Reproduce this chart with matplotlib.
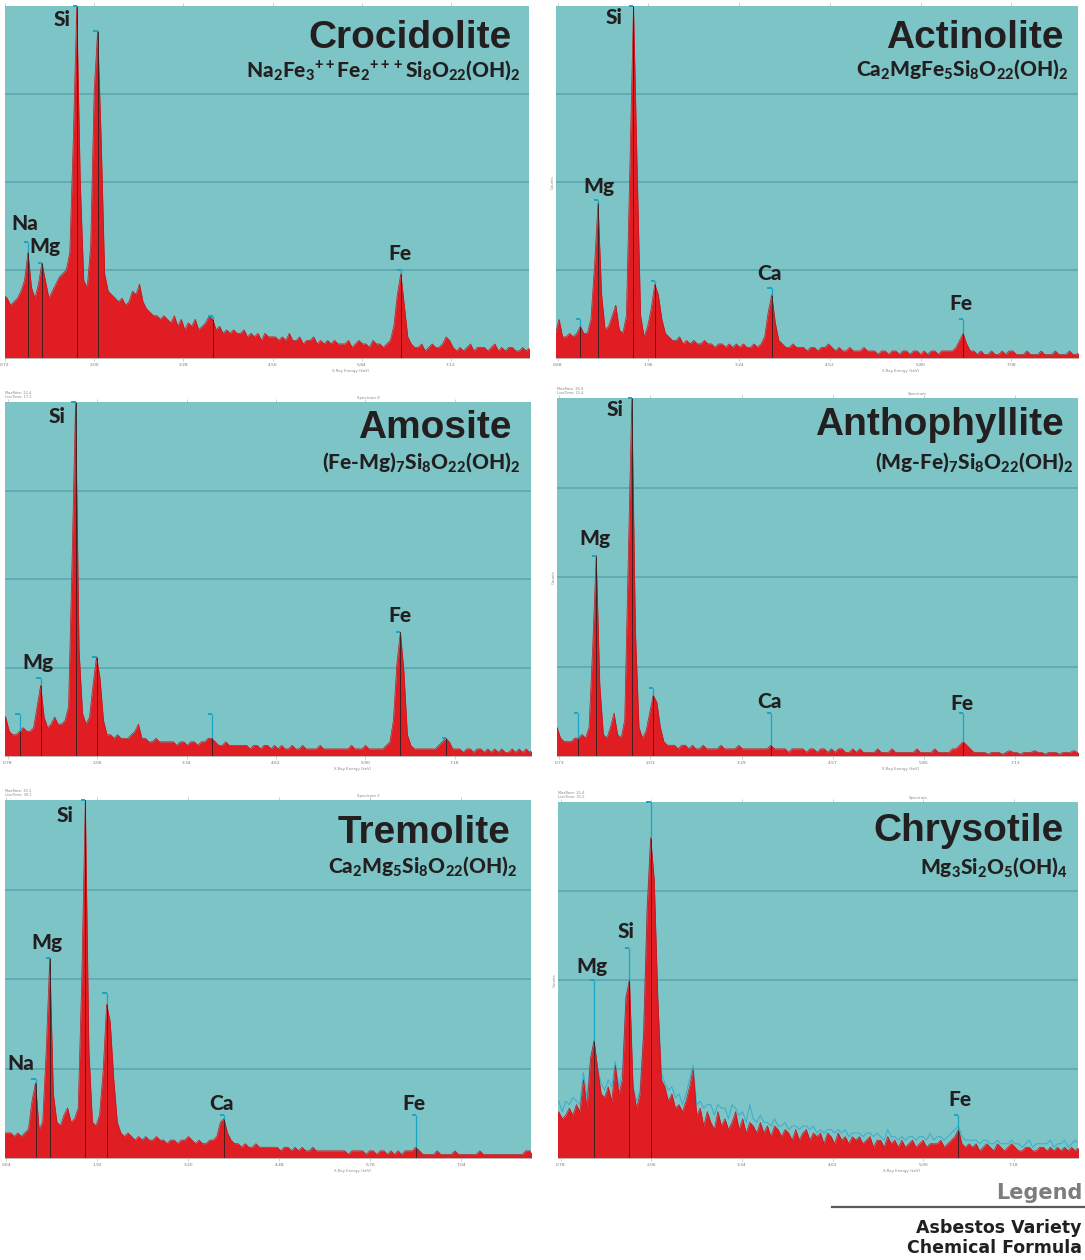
import numpy as np
import matplotlib
matplotlib.use("Agg")
import matplotlib.pyplot as plt
from matplotlib.lines import Line2D

W, H = 1085, 1260
plt.rcParams['mathtext.fontset'] = 'custom'
plt.rcParams['mathtext.rm'] = 'Lato:black'
plt.rcParams['mathtext.it'] = 'Lato:black'
plt.rcParams['mathtext.bf'] = 'Lato:black'

# ---------------- data: counts (% of full scale) on a 0.05 keV grid from 0.60 keV
E_START, E_STEP, N_CH = 0.60, 0.05, 155
energy = E_START + E_STEP * np.arange(N_CH)

crocidolite = [
    18, 18, 18, 17, 15, 16, 17, 19, 22, 30,
    20, 17, 21, 27, 22, 17, 19, 21, 23, 24,
    25, 30, 62, 100, 50, 22, 20, 32, 76, 93,
    62, 24, 19, 18, 17, 16, 17, 15, 16, 19,
    18, 21, 16, 14, 13, 12, 12, 11, 12, 11,
    10, 12, 9, 11, 8, 10, 9, 11, 8, 9,
    10, 12, 11, 8, 9, 7, 8, 7, 8, 7,
    7, 8, 6, 7, 6, 7, 5, 7, 6, 6,
    6, 5, 6, 5, 7, 5, 5, 6, 4, 5,
    5, 6, 4, 5, 4, 5, 4, 5, 4, 4,
    4, 5, 3, 4, 5, 4, 4, 3, 5, 4,
    4, 3, 4, 5, 9, 18, 24, 15, 6, 4,
    3, 3, 4, 2, 3, 4, 3, 3, 4, 6,
    5, 3, 2, 3, 2, 3, 4, 2, 3, 3,
    3, 2, 3, 4, 2, 3, 2, 3, 3, 2,
    2, 3, 2, 3, 2]

actinolite = [
    7, 7, 11, 6, 6, 7, 6, 7, 9, 7,
    7, 11, 26, 44, 18, 8, 9, 12, 15, 8,
    7, 12, 55, 100, 55, 12, 6, 9, 14, 21,
    18, 11, 7, 6, 5, 5, 6, 4, 5, 4,
    5, 4, 4, 5, 4, 4, 3, 4, 4, 3,
    4, 3, 4, 3, 4, 3, 3, 4, 3, 4,
    6, 13, 18, 10, 5, 4, 3, 3, 4, 3,
    3, 3, 2, 3, 3, 2, 3, 3, 4, 3,
    2, 3, 2, 2, 3, 2, 2, 2, 3, 2,
    2, 2, 1, 2, 2, 1, 2, 2, 1, 2,
    2, 1, 2, 2, 1, 2, 1, 2, 2, 1,
    2, 2, 2, 2, 3, 5, 7, 4, 2, 2,
    1, 2, 1, 1, 2, 1, 1, 2, 1, 2,
    2, 1, 1, 1, 2, 1, 1, 1, 2, 1,
    1, 1, 2, 1, 1, 1, 2, 1, 1, 2,
    1, 2, 1, 1, 2]

amosite = [
    12, 12, 12, 11, 7, 6, 6, 7, 8, 7,
    7, 8, 14, 20, 11, 8, 9, 11, 9, 9,
    10, 14, 55, 100, 30, 12, 9, 11, 20, 28,
    22, 10, 6, 6, 5, 6, 5, 5, 5, 6,
    7, 9, 5, 5, 4, 4, 5, 4, 4, 4,
    4, 4, 3, 4, 4, 3, 4, 4, 3, 4,
    4, 5, 5, 4, 3, 3, 4, 3, 3, 3,
    3, 3, 3, 2, 3, 3, 2, 3, 3, 2,
    3, 2, 3, 2, 2, 3, 2, 2, 3, 2,
    2, 2, 2, 3, 2, 2, 2, 2, 2, 2,
    2, 2, 3, 2, 2, 2, 3, 2, 2, 2,
    2, 2, 3, 4, 10, 26, 35, 24, 6, 3,
    2, 2, 2, 2, 2, 2, 2, 3, 4, 5,
    4, 2, 2, 2, 1, 2, 2, 1, 2, 2,
    1, 2, 1, 2, 1, 2, 1, 1, 2, 1,
    2, 1, 2, 1, 2]

anthophyllite = [
    8, 8, 8, 5, 4, 4, 4, 5, 5, 6,
    5, 8, 30, 56, 20, 6, 5, 8, 12, 6,
    5, 10, 55, 100, 35, 8, 5, 7, 12, 17,
    15, 8, 4, 3, 3, 3, 2, 3, 3, 2,
    3, 2, 2, 3, 2, 2, 2, 2, 3, 2,
    2, 2, 2, 3, 2, 2, 2, 2, 2, 2,
    2, 2, 3, 2, 2, 2, 2, 1, 2, 2,
    2, 2, 1, 2, 2, 1, 2, 2, 1, 2,
    1, 2, 2, 1, 1, 2, 1, 2, 1, 1,
    1, 1, 2, 1, 1, 1, 2, 1, 1, 1,
    1, 1, 1, 2, 1, 1, 1, 1, 2, 1,
    1, 1, 1, 2, 2, 3, 4, 3, 2, 1,
    1, 1, 1, 0.5, 1, 1, 1, 0.5, 1, 1.5,
    1, 1, 0.5, 1, 1, 1, 1.5, 1, 1, 0.5,
    1, 1, 1, 0.5, 1, 1, 1, 1.5, 1, 1,
    1, 0.5, 1, 1, 1]

tremolite = [
    7, 7, 7, 6, 7, 6, 7, 8, 16, 21,
    8, 10, 30, 56, 18, 10, 9, 12, 14, 10,
    11, 14, 50, 100, 30, 10, 9, 12, 24, 43,
    38, 22, 10, 7, 6, 7, 6, 5, 6, 5,
    6, 5, 5, 6, 5, 5, 4, 5, 5, 4,
    5, 5, 6, 5, 4, 5, 4, 4, 5, 5,
    6, 10, 11, 7, 5, 4, 4, 3, 4, 3,
    3, 4, 3, 3, 3, 3, 3, 3, 2, 3,
    3, 2, 3, 2, 3, 2, 2, 3, 2, 2,
    2, 2, 2, 2, 2, 2, 2, 1, 2, 2,
    2, 2, 1, 2, 2, 1, 2, 2, 1, 2,
    1, 2, 1, 2, 2, 2, 3, 2, 1, 1,
    1, 1, 2, 1, 1, 1, 1, 2, 1, 1,
    1, 1, 1, 1, 2, 1, 1, 1, 1, 1,
    1, 1, 1, 1, 1, 1, 1, 2, 2, 1,
    1, 1, 1, 1, 1]

chrysotile = [
    12, 12, 12, 13, 11, 12, 14, 12, 15, 13,
    22, 14, 28, 33, 25, 18, 17, 20, 16, 26,
    18, 22, 45, 50, 20, 14, 18, 35, 70, 90,
    78, 45, 22, 20, 16, 18, 14, 15, 13, 16,
    20, 25, 12, 14, 9, 13, 10, 8, 13, 9,
    11, 8, 10, 13, 8, 11, 7, 10, 9, 7,
    10, 7, 9, 6, 9, 8, 6, 8, 7, 5,
    8, 5, 7, 8, 5, 7, 6, 7, 4, 7,
    6, 4, 7, 5, 6, 4, 6, 5, 6, 4,
    5, 6, 3, 5, 5, 3, 6, 4, 5, 3,
    5, 3, 4, 5, 3, 4, 5, 3, 4, 4,
    4, 5, 3, 4, 5, 6, 8, 4, 3, 4,
    3, 4, 2, 3, 4, 3, 2, 4, 3, 2,
    3, 4, 3, 2, 2, 3, 3, 2, 2, 3,
    3, 2, 3, 2, 3, 2, 3, 2, 3, 2,
    3, 2, 3, 2, 3]

# light-blue overlay spectrum visible above the red one in the chrysotile panel
chrysotile_overlay = [
    14, 14, 15, 16, 13, 16, 15, 17, 16, 15,
    24, 17, 28, 33, 25, 21, 19, 22, 20, 27,
    20, 24, 45, 50, 20, 16, 19, 35, 70, 90,
    78, 45, 24, 21, 19, 20, 17, 18, 15, 18,
    22, 26, 15, 16, 14, 15, 15, 12, 15, 14,
    14, 11, 15, 14, 12, 13, 10, 15, 11, 10,
    12, 10, 10, 9, 11, 9, 9, 10, 8, 9,
    9, 8, 9, 9, 8, 9, 7, 8, 7, 8,
    8, 7, 8, 7, 8, 6, 7, 7, 7, 6,
    7, 7, 6, 7, 6, 5, 8, 6, 6, 5,
    6, 5, 6, 6, 5, 6, 6, 5, 7, 5,
    6, 6, 5, 6, 7, 8, 9, 6, 5, 5,
    5, 5, 4, 5, 5, 4, 4, 5, 4, 4,
    4, 5, 4, 4, 3, 4, 5, 3, 4, 4,
    4, 4, 5, 3, 4, 4, 5, 3, 4, 5,
    4, 4, 5, 4, 4]

names = ["Crocidolite", "Actinolite", "Amosite", "Anthophyllite", "Tremolite", "Chrysotile"]
formulas = [
    r"Na$_2$Fe$_3{}^{++}$Fe$_2{}^{+++}$Si$_8$O$_{22}$(OH)$_2$",
    r"Ca$_2$MgFe$_5$Si$_8$O$_{22}$(OH)$_2$",
    r"(Fe-Mg)$_7$Si$_8$O$_{22}$(OH)$_2$",
    r"(Mg-Fe)$_7$Si$_8$O$_{22}$(OH)$_2$",
    r"Ca$_2$Mg$_5$Si$_8$O$_{22}$(OH)$_2$",
    r"Mg$_3$Si$_2$O$_5$(OH)$_4$",
]
spectra = [crocidolite, actinolite, amosite, anthophyllite, tremolite, chrysotile]
overlays = [None, None, None, None, None, chrysotile_overlay]
x_ranges = [(0.737, 8.24), (0.657, 8.02), (0.74, 8.27), (0.70, 8.01), (0.62, 8.02), (0.74, 8.09)]
tick_sets = [
    [0.72, 2.00, 3.28, 4.56, 5.84, 7.12],
    [0.68, 1.96, 3.24, 4.52, 5.80, 7.08],
    [0.78, 2.06, 3.34, 4.62, 5.90, 7.18],
    [0.73, 2.01, 3.29, 4.57, 5.85, 7.13],
    [0.64, 1.92, 3.20, 4.48, 5.76, 7.04],
    [0.78, 2.06, 3.34, 4.62, 5.90, 7.18],
]
marker_energies = [
    [1.05, 1.25, 1.75, 2.05, 3.70, 6.40],
    [1.00, 1.25, 1.75, 2.05, 3.70, 6.40],
    [0.95, 1.25, 1.75, 2.05, 3.70, 6.40, 7.05],
    [1.00, 1.25, 1.75, 2.05, 3.70, 6.40],
    [1.05, 1.25, 1.75, 2.05, 3.70, 6.40],
    [1.25, 1.75, 2.05, 6.40],
]
marker_tops = [
    [33, 27, 100, 93, 12, 25],
    [11, 45, 100, 22, 20, 11],
    [12, 22, 100, 28, 12, 35, 5],
    [12, 56, 100, 19, 12, 12],
    [22, 56, 100, 46, 12, 12],
    [50, 59, 100, 12],
]
# element labels: (text, x px, y px)
element_labels = [
    [("Si", 62, 20), ("Na", 25, 224), ("Mg", 45, 246), ("Fe", 400, 254)],
    [("Si", 614, 17), ("Mg", 599, 186), ("Ca", 770, 273), ("Fe", 961, 304)],
    [("Si", 57, 417), ("Mg", 38, 662), ("Fe", 400, 616)],
    [("Si", 615, 409), ("Mg", 595, 538), ("Ca", 770, 702), ("Fe", 962, 703)],
    [("Si", 65, 815), ("Mg", 47, 943), ("Na", 21, 1063), ("Ca", 221, 1104), ("Fe", 414, 1103)],
    [("Si", 626, 931), ("Mg", 592, 966), ("Fe", 960, 1100)],
]
meta_info = [None, None,
             ("MaxRate: 22.4\nLiveTime: 17.1", "Spectrum 8"),
             ("MaxRate: 26.9\nLiveTime: 21.4", "Spectrum"),
             ("MaxRate: 30.1\nLiveTime: 30.1", "Spectrum 2"),
             ("MaxRate: 25.4\nLiveTime: 21.5", "Spectrum")]

# ---------------- layout (pixels) ----------------
boxes = [(5, 6, 529, 358), (556, 6, 1078, 358),
         (5, 402, 531, 756), (557, 398, 1078, 756),
         (5, 800, 531, 1158), (558, 802, 1078, 1158)]
title_pos = [(512, 38), (1064, 38), (512, 428), (1064, 425), (510, 833), (1064, 831)]
formula_pos = [(521, 70), (1068, 69), (520, 462), (1073, 462), (517, 866), (1067, 867)]

TEAL = "#7cc4c5"
GRID = "#5eaab1"
RED = "#e11d24"
DARK = "#231f20"
CYAN = "#1aa6c4"

fig = plt.figure(figsize=(W / 100, H / 100), dpi=100)
fig.patch.set_facecolor("white")

def fx(x):
    return x / W

def fy(y):
    return 1 - y / H

for k in range(6):
    l, t, r, b = boxes[k]
    ax = fig.add_axes([fx(l), fy(b), (r - l) / W, (b - t) / H])
    ax.set_facecolor(TEAL)
    counts = np.array(spectra[k], dtype=float)
    for yv in (25, 50, 75):
        ax.axhline(yv, color=GRID, lw=1.3, zorder=1)
    if overlays[k] is not None:
        ax.plot(energy, overlays[k], color="#3aaccb", lw=0.7, zorder=1.5)
    ax.fill_between(energy, counts, 0, color=RED, lw=0, zorder=2)
    ax.plot(energy, counts, color="#c0161c", lw=0.5, zorder=3)
    for e, top in zip(marker_energies[k], marker_tops[k]):
        c = counts[int(round((e - E_START) / E_STEP))]
        ax.vlines(e, 0, min(c, top), color="#2b2020", lw=0.6, zorder=4)
        if top > c:
            ax.vlines(e, c, top, color=CYAN, lw=0.9, zorder=4)
        ax.plot([e - 0.06, e], [top, top], color=CYAN, lw=1.4, zorder=5,
                solid_capstyle="butt", clip_on=False)
    ax.set_xlim(*x_ranges[k])
    ax.set_ylim(0, 100)
    ax.set_yticks([])
    ax.set_xticks(tick_sets[k])
    ax.set_xticklabels([f"{v:.2f}" for v in tick_sets[k]], fontsize=3.2, color="#777")
    ax.tick_params(axis="x", length=2, width=0.4, color="#aaa", pad=1.5, top=True)
    for s in ("left", "right", "top"):
        ax.spines[s].set_visible(False)
    ax.spines["bottom"].set_color("#bbbbbb")
    ax.spines["bottom"].set_linewidth(0.6)
    ax.set_xlabel("X-Ray Energy (keV)", fontsize=2.8, color="#888", labelpad=1)
    ax.xaxis.set_label_coords(0.66, -0.03)
    if k % 2 == 1:
        ax.set_ylabel("Counts", fontsize=2.8, color="#888", labelpad=1)

    # titles and formulas
    tx, ty = title_pos[k]
    fig.text(fx(tx), fy(ty), names[k], ha="right", va="center", fontsize=28,
             fontweight="bold", family="Liberation Sans", color=DARK)
    fx_, fy_ = formula_pos[k]
    fig.text(fx(fx_), fy(fy_), formulas[k], ha="right", va="center", fontsize=15,
             fontweight="black", family="Lato", color=DARK)
    for s, x, y in element_labels[k]:
        fig.text(fx(x), fy(y), s, ha="center", va="center", fontsize=15,
                 fontweight="black", family="Lato", color=DARK)
    if meta_info[k] is not None:
        m1, m2 = meta_info[k]
        fig.text(fx(l), fy(t - 3), m1, ha="left", va="bottom", fontsize=2.6,
                 color="#888", linespacing=1.0)
        fig.text(fx((l + r) / 2 + 100), fy(t - 2), m2, ha="center", va="bottom",
                 fontsize=2.8, color="#888")

# legend block
fig.text(fx(1082), fy(1193), "Legend", ha="right", va="center", fontsize=15,
         fontweight="bold", family="DejaVu Sans", color="#7d7d7d")
fig.add_artist(Line2D([fx(832), 1.0], [fy(1207), fy(1207)], color="#5a5a5a", lw=1.6))
fig.text(fx(1082), fy(1228), "Asbestos Variety", ha="right", va="center", fontsize=12.5,
         fontweight="bold", family="DejaVu Sans", color=DARK)
fig.text(fx(1082), fy(1248), "Chemical Formula", ha="right", va="center", fontsize=12.5,
         fontweight="bold", family="DejaVu Sans", color=DARK)

fig.savefig("out.png", dpi=100, facecolor="white")
